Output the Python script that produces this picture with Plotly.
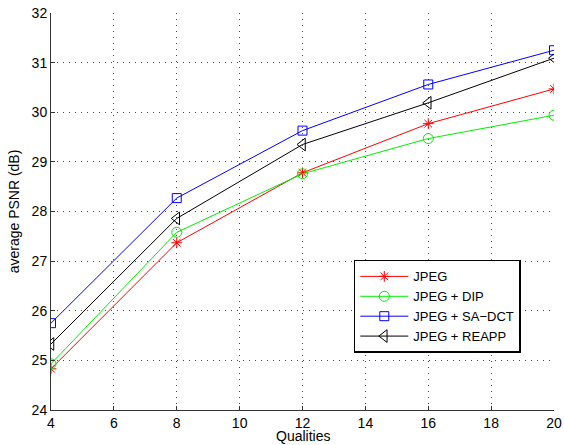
import plotly.graph_objects as go

qualities = [4, 8, 12, 16, 20]
jpeg = [24.83, 27.37, 28.78, 29.77, 30.47]
jpeg_dip = [24.93, 27.58, 28.76, 29.47, 29.94]
jpeg_sadct = [25.75, 28.27, 29.63, 30.56, 31.25]
jpeg_reapp = [25.33, 27.86, 29.35, 30.19, 31.09]

series = [
    ("JPEG", jpeg, "#ff0000", "asterisk-open", 9),
    ("JPEG + DIP", jpeg_dip, "#00ee00", "circle-open", 10),
    ("JPEG + SA\u2212DCT", jpeg_sadct, "#0000ff", "square-open", 9),
    ("JPEG + REAPP", jpeg_reapp, "#000000", "triangle-left-open", 11),
]

fig = go.Figure()
for name, ys, color, sym, sz in series:
    fig.add_trace(go.Scatter(
        x=qualities, y=ys, name=name, mode="lines+markers",
        line=dict(color=color, width=1),
        marker=dict(symbol=sym, size=sz, color=color, line=dict(color=color, width=1)),
    ))

font = "Liberation Sans, Arial, Helvetica, sans-serif"
fig.update_layout(
    width=564, height=445,
    margin=dict(l=51, r=10, t=13, b=35, autoexpand=False),
    paper_bgcolor="white", plot_bgcolor="white",
    font=dict(family=font, size=14, color="black"),
    showlegend=True,
    legend=dict(
        x=0.602, y=0.378, xanchor="left", yanchor="top",
        bgcolor="white", bordercolor="black", borderwidth=1.5,
        font=dict(family=font, size=13, color="black"),
        tracegroupgap=0, itemwidth=48,
    ),
    annotations=[dict(
        text="Qualities", xref="paper", yref="paper", x=0.5, y=0,
        xanchor="center", yanchor="top", yshift=-16, showarrow=False,
        font=dict(family=font, size=14, color="black"),
    )],
)
grid = dict(showgrid=True, gridcolor="#444", griddash="1px,5px", gridwidth=1)
fig.update_xaxes(
    range=[4, 20], tickvals=[4, 6, 8, 10, 12, 14, 16, 18, 20],
    showline=True, linecolor="#333", linewidth=1,
    ticks="inside", ticklen=4, tickcolor="#333",
    zeroline=False, ticklabeloverflow="allow", automargin=False,
    tickfont=dict(size=14), **grid,
)
fig.update_yaxes(
    range=[24, 32], tickvals=list(range(24, 33)),
    showline=True, linecolor="#333", linewidth=1,
    ticks="inside", ticklen=4, tickcolor="#333",
    zeroline=False, ticklabeloverflow="allow", automargin=False,
    title=dict(text="average PSNR (dB)", font=dict(size=14), standoff=8),
    tickfont=dict(size=14), **grid,
)

fig.write_html("out.html", config={"displayModeBar": False},
               post_script="document.body.style.margin='0';")
